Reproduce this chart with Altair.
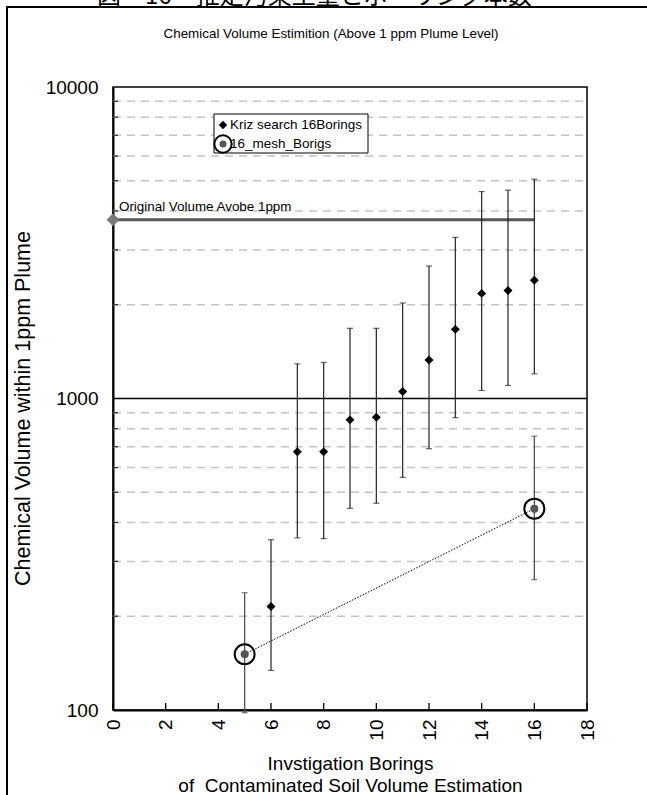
import altair as alt
import pandas as pd

# ---- data ----
kriz_x = [6, 7, 8, 9, 10, 11, 12, 13, 14, 15, 16]
kriz_y = [215, 675, 675, 854, 871, 1053, 1330, 1667, 2175, 2223, 2395]
kriz_hi = [352, 1292, 1305, 1680, 1680, 2026, 2663, 3290, 4617, 4665, 5060]
kriz_lo = [134, 357, 355, 444, 461, 558, 690, 868, 1061, 1101, 1200]

mesh_x = [5, 16]
mesh_y = [151, 443]
mesh_hi = [238, 757]
mesh_lo = [98, 262]

orig_x = [0, 16]
orig_y = [3750, 3750]

x_ticks = [0, 2, 4, 6, 8, 10, 12, 14, 16, 18]
y_labels = [100, 1000, 10000]
y_minor = [200, 300, 400, 500, 600, 700, 800, 900,
           2000, 3000, 4000, 5000, 6000, 7000, 8000, 9000]

title_text = "Chemical Volume Estimition (Above 1 ppm Plume Level)"
caption_text = "図－16　推定汚染土量とボーリング本数"
x_title = ["Invstigation Borings", "of\u00a0 Contaminated Soil Volume Estimation"]
y_title = "Chemical Volume within 1ppm Plume"
orig_label = "Original Volume Avobe 1ppm"
legend_labels = ["Kriz search 16Borings", "16_mesh_Borigs"]

FONT = "Liberation Sans"
W, H = 474, 623

kriz = pd.DataFrame({"x": kriz_x, "y": kriz_y, "hi": kriz_hi, "lo": kriz_lo})
mesh = pd.DataFrame({"x": mesh_x, "y": mesh_y, "hi": mesh_hi, "lo": mesh_lo})
orig = pd.DataFrame({"x": orig_x, "y": orig_y})
xt = pd.DataFrame({"x": x_ticks})
ym = pd.DataFrame({"y": y_minor})
one = pd.DataFrame({"a": [0]})

xs = alt.Scale(domain=[0, 18], nice=False, zero=False)
ys = alt.Scale(type="log", domain=[100, 10000], nice=False)

x_axis = alt.Axis(
    values=x_ticks, labelAngle=270, labelAlign="right", labelBaseline="middle",
    labelFont=FONT, labelFontSize=19, labelColor="black", labelPadding=9,
    ticks=False, domainColor="black", domainWidth=2, grid=False,
    title=x_title, titleFont=FONT, titleFontSize=19, titleFontWeight="normal",
    titleColor="black", titlePadding=14, titleLineHeight=22)
y_axis = alt.Axis(
    values=y_labels, format="d", labelFont=FONT, labelFontSize=19,
    labelColor="black", labelPadding=15, ticks=False, domainColor="black",
    domainWidth=2, grid=False, title=y_title, titleFont=FONT, titleFontSize=21.5,
    titleFontWeight="normal", titleColor="black", titlePadding=11, titleY=321)


def X(f="x"):
    return alt.X(f"{f}:Q", scale=xs, axis=x_axis)


def Y(f="y"):
    return alt.Y(f"{f}:Q", scale=ys, axis=y_axis)


# outer frame (partially outside canvas)
frame = alt.Chart(one).mark_rect(fill=None, stroke="black", strokeWidth=2, clip=False).encode(
    x=alt.value(7 - 113), x2=alt.value(700), y=alt.value(7 - 87), y2=alt.value(800))

caption = alt.Chart(one).mark_text(font="Noto Sans CJK JP", fontSize=24, align="left",
                                   baseline="alphabetic", color="black").encode(
    x=alt.value(97 - 113), y=alt.value(4 - 87), text=alt.value(caption_text))

title = alt.Chart(one).mark_text(font=FONT, fontSize=13.4, align="center",
                                 baseline="middle", color="black").encode(
    x=alt.value(331 - 113), y=alt.value(34 - 87), text=alt.value(title_text))

# gridlines
grid = alt.Chart(ym).mark_rule(color="#c4c4c4", strokeWidth=1.5, strokeDash=[8, 6]).encode(
    y=Y(), x=alt.value(0), x2=alt.value(W))
major = alt.Chart(pd.DataFrame({"y": [1000]})).mark_rule(color="black", strokeWidth=1.3).encode(
    y=Y(), x=alt.value(0), x2=alt.value(W))
yminor_ticks = alt.Chart(ym).mark_rule(color="#333", strokeWidth=1.3).encode(
    y=Y(), x=alt.value(0), x2=alt.value(5))
xticks_in = alt.Chart(xt).mark_rule(color="black", strokeWidth=1.3).encode(
    x=X(), y=alt.value(H), y2=alt.value(H - 7))

# original volume line
orig_line = alt.Chart(orig).mark_line(color="#555555", strokeWidth=3, clip=False).encode(x=X(), y=Y())
orig_pt = alt.Chart(orig.iloc[[0]]).mark_point(shape="diamond", size=169, filled=True,
                                               color="#7a7a7a", opacity=1, clip=False).encode(x=X(), y=Y())
orig_txt = alt.Chart(orig.iloc[[0]]).mark_text(font=FONT, fontSize=13.4, align="left",
                                               baseline="alphabetic", dx=6, dy=-9,
                                               color="black").encode(
    x=X(), y=Y(), text=alt.value(orig_label))

# error bars
k_bar = alt.Chart(kriz).mark_rule(color="#222", strokeWidth=1.2, clip=False).encode(
    x=X(), y=Y("lo"), y2="hi:Q")
k_cap_hi = alt.Chart(kriz).mark_tick(color="#222", size=6, thickness=1.2, orient="horizontal",
                                     clip=False).encode(x=X(), y=Y("hi"))
k_cap_lo = alt.Chart(kriz).mark_tick(color="#222", size=6, thickness=1.2, orient="horizontal",
                                     clip=False).encode(x=X(), y=Y("lo"))
m_bar = alt.Chart(mesh).mark_rule(color="#444", strokeWidth=1.2, clip=False).encode(
    x=X(), y=Y("lo"), y2="hi:Q")
m_cap_hi = alt.Chart(mesh).mark_tick(color="#444", size=6, thickness=1.2, orient="horizontal",
                                     clip=False).encode(x=X(), y=Y("hi"))
m_cap_lo = alt.Chart(mesh).mark_tick(color="#444", size=6, thickness=1.2, orient="horizontal",
                                     clip=False).encode(x=X(), y=Y("lo"))

# series
k_pts = alt.Chart(kriz).mark_point(shape="diamond", size=80, filled=True, color="black",
                                   opacity=1).encode(x=X(), y=Y())
m_line = alt.Chart(mesh).mark_line(color="black", strokeWidth=1, strokeDash=[1.5, 1.5]).encode(
    x=X(), y=Y())
m_dot = alt.Chart(mesh).mark_point(shape="circle", size=64, filled=True, color="#555",
                                   opacity=1).encode(x=X(), y=Y())
m_ring = alt.Chart(mesh).mark_point(shape="circle", size=400, filled=False, color="black",
                                    strokeWidth=2, opacity=1).encode(x=X(), y=Y())

# legend (drawn)
lg_box = alt.Chart(one).mark_rect(fill="white", stroke="black", strokeWidth=1).encode(
    x=alt.value(214 - 113), x2=alt.value(368 - 113), y=alt.value(114 - 87), y2=alt.value(153 - 87))
lg_d = alt.Chart(one).mark_point(shape="diamond", size=70, filled=True, color="black",
                                 opacity=1).encode(x=alt.value(110), y=alt.value(38))
lg_t1 = alt.Chart(one).mark_text(font=FONT, fontSize=13.5, align="left", baseline="middle",
                                 color="black").encode(x=alt.value(117), y=alt.value(38),
                                                       text=alt.value(legend_labels[0]))
lg_dot = alt.Chart(one).mark_point(shape="circle", size=49, filled=True, color="#555",
                                   opacity=1).encode(x=alt.value(110), y=alt.value(57))
lg_ring = alt.Chart(one).mark_point(shape="circle", size=300, filled=False, color="black",
                                    strokeWidth=2, opacity=1).encode(x=alt.value(110), y=alt.value(57))
lg_t2 = alt.Chart(one).mark_text(font=FONT, fontSize=13.5, align="left", baseline="middle",
                                 color="black").encode(x=alt.value(117), y=alt.value(57),
                                                       text=alt.value(legend_labels[1]))

chart = alt.layer(
    frame, caption, title, grid, major, yminor_ticks, xticks_in,
    orig_line, orig_pt, orig_txt,
    k_bar, k_cap_hi, k_cap_lo, m_bar, m_cap_hi, m_cap_lo,
    m_line, k_pts, m_dot, m_ring,
    lg_box, lg_d, lg_t1, lg_dot, lg_ring, lg_t2,
).properties(
    width=W, height=H,
    autosize=alt.AutoSizeParams(type="none"),
    padding={"left": 113, "top": 87, "right": 60, "bottom": 85},
    background="white",
).configure_view(stroke="black", strokeWidth=1.5)

chart.save("out.html", embed_options={"renderer": "svg", "actions": False})
